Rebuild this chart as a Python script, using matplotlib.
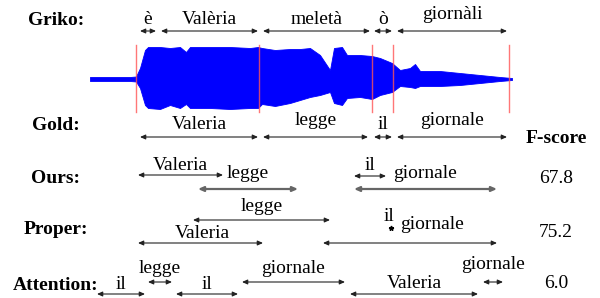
import numpy as np
import matplotlib.pyplot as plt

plt.rcParams['font.family'] = ['Liberation Serif', 'DejaVu Serif']

# waveform envelope (x, top, bottom)
wave_x = [90, 110, 130, 136, 140, 145, 148, 160, 170, 180, 186, 190, 210, 230, 250,
          258, 262, 275, 290, 300, 310, 320, 330, 334, 342, 347, 360, 372, 380, 392,
          400, 410, 415, 420, 440, 460, 480, 500, 512]
wave_top = [77, 77, 77, 76.5, 68, 50, 47, 47, 48, 47, 52, 47, 47, 47, 48,
            47, 48, 50, 49, 49, 48, 55, 70, 48, 47, 55, 55, 56, 58, 63,
            70, 68, 64, 71, 71, 73, 75, 77, 78]
wave_bot = [81, 81, 81, 81.5, 88, 105, 108, 109, 105, 108, 104, 108, 108, 109, 108,
            108, 104, 106, 103, 100, 97, 95, 92, 103, 105, 98, 97, 99, 95, 92,
            86, 87, 88, 86, 86, 85, 83, 81, 80]
boundaries = [136, 259, 372, 393, 509]

# rows: words, span start, span end
griko_words = ['è', 'Valèria', 'meletà', 'ò', 'giornàli']
griko_start = [140, 161, 263, 374, 397]
griko_end = [156, 258, 370, 392, 507]

gold_words = ['Valeria', 'legge', 'il', 'giornale']
gold_start = [140, 263, 374, 397]
gold_end = [258, 368, 392, 507]

ours_words = ['Valeria', 'legge', 'il', 'giornale']
ours_start = [138, 198, 354, 354]
ours_end = [223, 298, 386, 497]

proper_words = ['legge', 'Valeria', 'il', 'giornale']
proper_start = [193, 138, 391, 323]
proper_end = [330, 263, 391, 497]

att_words = ['il', 'legge', 'il', 'giornale', 'Valeria', 'giornale']
att_start = [97, 148, 176, 242, 350, 483]
att_end = [145, 172, 238, 345, 478, 503]

fscores = ['67.8', '75.2', '6.0']

fig = plt.figure(figsize=(6, 2.98), dpi=100)
ax = fig.add_axes([0, 0, 1, 1])
ax.set_xlim(0, 600)
ax.set_ylim(298, 0)
ax.axis('off')

ax.fill_between(wave_x, wave_top, wave_bot, color='#0000ff', lw=0.6)
for b in boundaries:
    ax.plot([b, b], [45, 112], color='#ff5555', lw=1, alpha=0.8)


def draw_row(words, starts, ends, arrow_y, text_y, text_x=None, colors=None, widths=None):
    for i, w in enumerate(words):
        c = colors[i] if colors else '#222222'
        lw = widths[i] if widths else 0.8
        if starts[i] == ends[i]:
            ax.plot(starts[i], arrow_y[i], marker='*', ms=3.5, color='black')
        else:
            ax.annotate('', xy=(ends[i], arrow_y[i]), xytext=(starts[i], arrow_y[i]),
                        arrowprops=dict(arrowstyle='<|-|>,head_length=0.45,head_width=0.2',
                                        mutation_scale=7, lw=lw, color=c,
                                        shrinkA=0, shrinkB=0))
        tx = text_x[i] if text_x and text_x[i] is not None else (starts[i] + ends[i]) / 2
        ax.text(tx, text_y[i], w, ha='center', va='baseline', fontsize=14)


draw_row(griko_words, griko_start, griko_end, [31] * 5, [24, 24, 24, 24, 19])
draw_row(gold_words, gold_start, gold_end, [137] * 4, [129, 125, 129, 125])
draw_row(ours_words, ours_start, ours_end, [175, 189, 176, 189], [170, 178, 170, 178],
         colors=['#222222', '#666666', '#222222', '#666666'], widths=[0.8, 1.6, 0.8, 1.6])
draw_row(proper_words, proper_start, proper_end, [220, 243, 228, 243], [211, 238, 221, 229],
         text_x=[None, 202, 389, 432])
draw_row(att_words, att_start, att_end, [294, 282, 294, 282, 294, 282],
         [289, 273, 289, 273, 288, 269])

row_labels = ['Griko:', 'Gold:', 'Ours:', 'Proper:', 'Attention:']
label_y = [25, 130, 183, 234, 290]
for lab, y in zip(row_labels, label_y):
    ax.text(56, y, lab, ha='center', va='baseline', fontsize=14, fontweight='bold')

ax.text(556, 143, 'F-score', ha='center', va='baseline', fontsize=14, fontweight='bold')
for s, y in zip(fscores, [183, 237, 288]):
    ax.text(556, y, s, ha='center', va='baseline', fontsize=14)

fig.savefig('out.png', dpi=100)
